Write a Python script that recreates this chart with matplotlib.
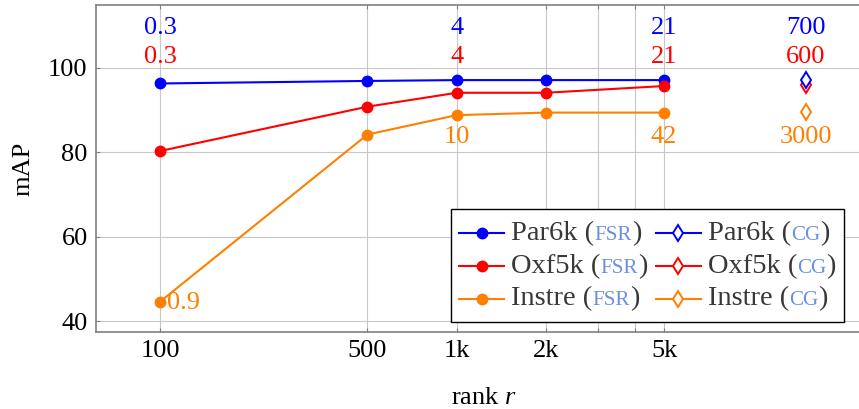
import matplotlib
matplotlib.use("Agg")
import matplotlib.pyplot as plt
from matplotlib.lines import Line2D
from matplotlib.offsetbox import DrawingArea, TextArea, HPacker, VPacker, AnchoredOffsetbox

# ---------------- data ----------------
ranks = [100, 500, 1000, 2000, 5000]
par6k_fsr = [96.3, 96.9, 97.1, 97.1, 97.1]
oxf5k_fsr = [80.3, 90.8, 94.1, 94.1, 95.7]
instre_fsr = [44.6, 84.2, 88.8, 89.4, 89.4]

cg_rank = 15000
par6k_cg = 97.1
oxf5k_cg = 95.9
instre_cg = 89.5

# timing annotations (rank, label)
par6k_times_x = [100, 1000, 5000, cg_rank]
par6k_times = ["0.3", "4", "21", "700"]
oxf5k_times_x = [100, 1000, 5000, cg_rank]
oxf5k_times = ["0.3", "4", "21", "600"]
instre_times_x = [1000, 5000, cg_rank]
instre_times = ["10", "42", "3000"]
instre_first_time = "0.9"

xticks = [100, 500, 1000, 2000, 3000, 4000, 5000]
xticklabels = ["100", "500", "1k", "2k", "", "", "5k"]
yticks = [40, 60, 80, 100]

series_names = ["Par6k", "Oxf5k", "Instre"]
# ---------------- style ----------------
BLUE = "#0000ff"
RED = "#ff0000"
ORANGE = "#ff8000"
TAG = "#6b8fe6"
LEGTXT = "#383838"
FONT = "Liberation Serif"
FS = 19
LFS = 20.5

plt.rcParams["font.family"] = [FONT, "DejaVu Serif"]
plt.rcParams["mathtext.fontset"] = "custom"
plt.rcParams["mathtext.it"] = "Liberation Serif:italic"
plt.rcParams["mathtext.rm"] = "Liberation Serif"

W, H = 859, 409
fig = plt.figure(figsize=(W / 100, H / 100), dpi=100)
left_px, right_px, top_px, bot_px = 96, 871, 5, 332
ax = fig.add_axes([left_px / W, 1 - bot_px / H, (right_px - left_px) / W, (bot_px - top_px) / H])

ax.set_xscale("log")
ax.set_xlim(60.8, 24900)
ax.set_ylim(37.4, 114.9)

ax.set_xticks(xticks)
ax.set_xticklabels(xticklabels)
ax.minorticks_off()
ax.set_yticks(yticks)
ax.tick_params(axis="both", direction="in", length=3, width=0.8, color="#808080",
               labelsize=FS, labelcolor="black", top=True, right=False)
ax.tick_params(axis="x", pad=6)
ax.tick_params(axis="y", pad=6)
ax.grid(True, color="#c8c8c8", lw=0.8)
ax.set_axisbelow(True)
for s in ax.spines.values():
    s.set_color("#808080")
    s.set_linewidth(1.2)
ax.spines["right"].set_visible(False)

lw = 1.5
ms = 7.5
colors = [BLUE, RED, ORANGE]
fsr = [par6k_fsr, oxf5k_fsr, instre_fsr]
cg = [par6k_cg, oxf5k_cg, instre_cg]
for vals, c in zip(fsr, colors):
    ax.plot(ranks, vals, color=c, lw=lw, marker="o", ms=ms, zorder=3)
for v, c in zip(cg[::-1], colors[::-1]):
    ax.plot([cg_rank], [v], color=c, lw=lw, marker="d", ms=8, mfc="white", mew=1.4, zorder=3)

# annotations
for x, t in zip(par6k_times_x, par6k_times):
    ax.text(x, 108.0, t, color=BLUE, fontsize=FS, ha="center", va="baseline")
for x, t in zip(oxf5k_times_x, oxf5k_times):
    ax.text(x, 101.2, t, color=RED, fontsize=FS, ha="center", va="baseline")
for x, t in zip(instre_times_x, instre_times):
    ax.text(x, 82.2, t, color=ORANGE, fontsize=FS, ha="center", va="baseline")
ax.annotate(instre_first_time, (ranks[0], instre_fsr[0]), xytext=(5, -1), textcoords="offset points",
            color=ORANGE, fontsize=FS, ha="left", va="center")

ax.set_ylabel("mAP", fontsize=FS, labelpad=10)
ax.set_xlabel("rank $r$", fontsize=FS, labelpad=18)

# ---------------- custom legend ----------------
def handle(color, marker, filled):
    da = DrawingArea(32.4, 12, 0, 0)
    da.add_artist(Line2D([0, 32.4], [6, 6], color=color, lw=lw))
    if filled:
        da.add_artist(Line2D([16.2], [6], marker=marker, color=color, ms=ms, lw=0))
    else:
        da.add_artist(Line2D([16.2], [6], marker=marker, color=color, ms=8, mfc="white", mew=1.4, lw=0))
    return da

def row(name, tag, color, marker, filled):
    tp = dict(color=LEGTXT, fontsize=LFS, family=FONT)
    tt = dict(color=TAG, fontsize=LFS * 0.74, family=FONT)
    txt = HPacker(children=[TextArea(name + " (", textprops=tp),
                            TextArea(tag, textprops=tt),
                            TextArea(")", textprops=tp)], sep=0, pad=0, align="baseline")
    return HPacker(children=[handle(color, marker, filled), txt], sep=5, pad=0, align="center")

col1 = VPacker(children=[row(n, "FSR", c, "o", True) for n, c in zip(series_names, colors)],
               sep=5.5, pad=0, align="left")
col2 = VPacker(children=[row(n, "CG", c, "d", False) for n, c in zip(series_names, colors)],
               sep=5.5, pad=0, align="left")
both = HPacker(children=[col1, col2], sep=6, pad=0, align="top")
framed = VPacker(children=[DrawingArea(1, 2.6), both, DrawingArea(1, 1.4)], sep=0, pad=0, align="left")
leg = AnchoredOffsetbox(loc="upper left", child=framed, pad=0.6, borderpad=0, frameon=True,
                        prop=dict(size=10),
                        bbox_to_anchor=(451 / W, 1 - 209 / H), bbox_transform=fig.transFigure)
leg.patch.set_edgecolor("black")
leg.patch.set_linewidth(1.0)
leg.patch.set_facecolor("white")
leg.patch.set_boxstyle("square", pad=0)
leg.set_zorder(5)
ax.add_artist(leg)

fig.savefig("out.png", dpi=100)
